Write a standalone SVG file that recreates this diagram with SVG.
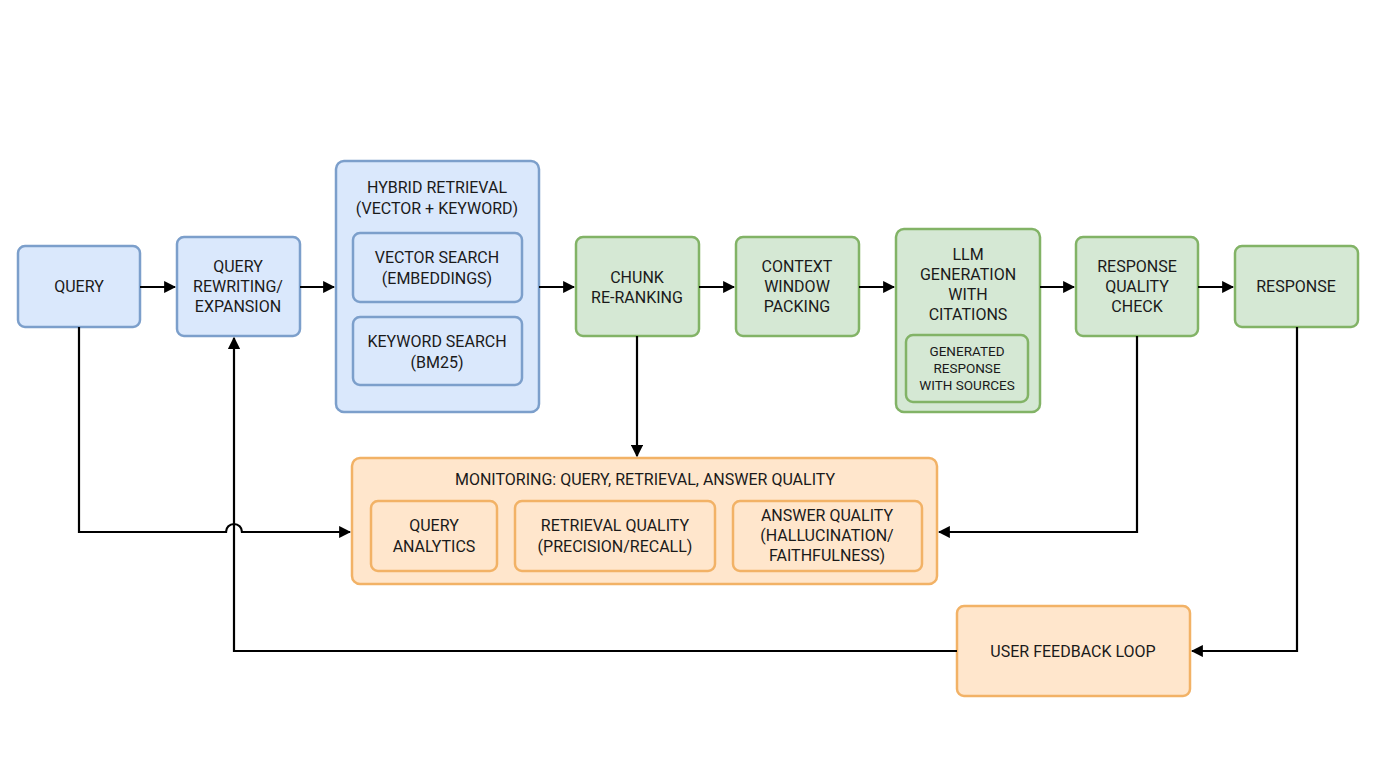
<svg xmlns="http://www.w3.org/2000/svg" width="1376" height="768" viewBox="0 0 1376 768">
<style>
text{font-family:"Roboto","Liberation Sans",sans-serif;font-size:16px;fill:#1a1a1a;text-anchor:middle}
.s{font-size:13.5px}
.b{fill:#dae8fc;stroke:#7c9fcb;stroke-width:2.5}
.g{fill:#d5e8d4;stroke:#82b366;stroke-width:2.5}
.o{fill:#ffe6cc;stroke:#f2b266;stroke-width:2.5}
.c{fill:none;stroke:#000;stroke-width:2.2;marker-end:url(#a)}
</style>
<defs><marker id="a" viewBox="0 0 10 10" refX="9" refY="5" markerWidth="5.5" markerHeight="5.5" orient="auto"><path d="M0 0L10 5L0 10z"/></marker></defs>
<rect width="1376" height="768" fill="#fff"/>
<g id="query"><rect class="b" x="18" y="246" width="122" height="81" rx="7"/><text x="79" y="292">QUERY</text></g>
<g id="rewrite"><rect class="b" x="177" y="237" width="123" height="99" rx="7"/><text x="238" y="272">QUERY</text><text x="238" y="292">REWRITING/</text><text x="238" y="312">EXPANSION</text></g>
<g id="hybrid"><rect class="b" x="336" y="161" width="203" height="251" rx="8"/><text x="437" y="193">HYBRID RETRIEVAL</text><text x="437" y="214">(VECTOR + KEYWORD)</text>
<rect class="b" x="353" y="233" width="169" height="69" rx="7"/><text x="437" y="263">VECTOR SEARCH</text><text x="437" y="284">(EMBEDDINGS)</text>
<rect class="b" x="353" y="317" width="169" height="68" rx="7"/><text x="437" y="347">KEYWORD SEARCH</text><text x="437" y="368">(BM25)</text></g>
<g id="chunk"><rect class="g" x="576" y="237" width="123" height="99" rx="7"/><text x="637" y="283">CHUNK</text><text x="637" y="303">RE-RANKING</text></g>
<g id="context"><rect class="g" x="736" y="237" width="123" height="99" rx="7"/><text x="797" y="272">CONTEXT</text><text x="797" y="292">WINDOW</text><text x="797" y="312">PACKING</text></g>
<g id="llm"><rect class="g" x="896" y="229" width="144" height="183" rx="8"/><text x="968" y="260">LLM</text><text x="968" y="280">GENERATION</text><text x="968" y="300">WITH</text><text x="968" y="320">CITATIONS</text>
<rect class="g" x="906" y="335" width="122" height="67" rx="7"/><text class="s" x="967" y="356">GENERATED</text><text class="s" x="967" y="373">RESPONSE</text><text class="s" x="967" y="390">WITH SOURCES</text></g>
<g id="rqc"><rect class="g" x="1076" y="237" width="122" height="99" rx="7"/><text x="1137" y="272">RESPONSE</text><text x="1137" y="292">QUALITY</text><text x="1137" y="312">CHECK</text></g>
<g id="response"><rect class="g" x="1235" y="246" width="123" height="81" rx="7"/><text x="1296" y="292">RESPONSE</text></g>
<g id="monitoring"><rect class="o" x="352" y="458" width="585" height="126" rx="8"/><text x="645" y="485">MONITORING: QUERY, RETRIEVAL, ANSWER QUALITY</text>
<rect class="o" x="371" y="501" width="126" height="70" rx="7"/><text x="434" y="531">QUERY</text><text x="434" y="552">ANALYTICS</text>
<rect class="o" x="515" y="501" width="200" height="70" rx="7"/><text x="615" y="531">RETRIEVAL QUALITY</text><text x="615" y="552">(PRECISION/RECALL)</text>
<rect class="o" x="733" y="501" width="189" height="70" rx="7"/><text x="827" y="521">ANSWER QUALITY</text><text x="827" y="541">(HALLUCINATION/</text><text x="827" y="561">FAITHFULNESS)</text></g>
<g id="feedback"><rect class="o" x="957" y="606" width="233" height="90" rx="7"/><text x="1073" y="657">USER FEEDBACK LOOP</text></g>
<g id="connectors">
<path class="c" d="M140 287H175"/><path class="c" d="M300 287H334"/><path class="c" d="M539 287H574"/><path class="c" d="M699 287H734"/><path class="c" d="M859 287H894"/><path class="c" d="M1040 287H1074"/><path class="c" d="M1198 287H1233"/>
<path class="c" d="M637 336V456"/>
<path class="c" d="M79 327V532H226A8 8 0 0 1 242 532H350"/>
<path class="c" d="M1137 336V532H939"/>
<path class="c" d="M1297 327V651H1192"/>
<path class="c" d="M957 651H234V338"/>
</g>
</svg>
